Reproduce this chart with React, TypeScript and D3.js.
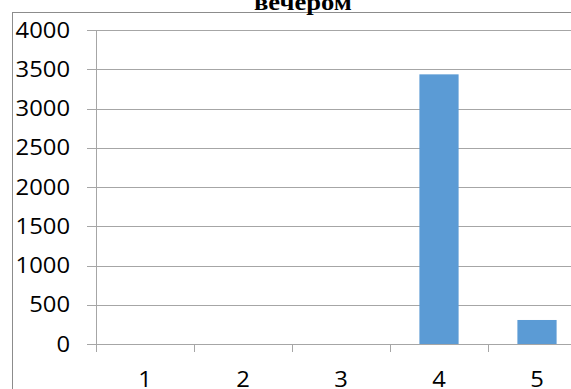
import React from "react";
import * as d3 from "d3";

const categories = ["1", "2", "3", "4", "5"];
const values = [0, 0, 0, 3435, 306];
const yTicks = [0, 500, 1000, 1500, 2000, 2500, 3000, 3500, 4000];
const title = "вечером";

export default function App() {
  const W = 571, H = 389;
  const x = d3.scaleBand<string>().domain(categories).range([96, 586]).paddingInner(0.6).paddingOuter(0.3);
  const y = d3.scaleLinear().domain([0, 4000]).range([344, 30]);
  const step = x.step();
  const font = "'Open Sans', sans-serif";
  const gridColor = "#a6a6a6";
  return (
    <svg width={W} height={H} style={{ position: "absolute", left: 0, top: 0, background: "#fff" }}>
      <rect x={12.5} y={12.5} width={W + 20} height={H + 20} fill="none" stroke="#8c8c8c" strokeWidth={1} />
      <text x={303} y={10} textAnchor="middle" fontFamily="'Liberation Serif', serif" fontWeight="bold" fontSize={24} textLength={98} lengthAdjust="spacingAndGlyphs" fill="#000">{title}</text>
      {yTicks.map((t) => (
        <g key={t}>
          <line x1={87} x2={W} y1={Math.round(y(t)) + 0.5} y2={Math.round(y(t)) + 0.5} stroke={gridColor} strokeWidth={1} />
          <text x={70} y={y(t)} dy="0.36em" textAnchor="end" fontFamily={font} fontSize={21} fill="#000"
            textLength={String(t).length * 13.6} lengthAdjust="spacingAndGlyphs">{t}</text>
        </g>
      ))}
      <line x1={96.5} x2={96.5} y1={y(4000)} y2={352} stroke={gridColor} strokeWidth={1} />
      {categories.map((c, i) => (
        <line key={"t" + c} x1={Math.round(96 + step * (i + 1)) + 0.5} x2={Math.round(96 + step * (i + 1)) + 0.5} y1={344} y2={352} stroke={gridColor} strokeWidth={1} />
      ))}
      {categories.map((c, i) => (
        <rect key={"b" + c} x={x(c)} y={y(values[i])} width={x.bandwidth()} height={y(0) - y(values[i])} fill="#5b9bd5" />
      ))}
      {categories.map((c) => (
        <text key={"l" + c} x={(x(c) as number) + x.bandwidth() / 2} y={379} dy="0.36em" textAnchor="middle" fontFamily={font} fontSize={21} fill="#000"
          textLength={13.6} lengthAdjust="spacingAndGlyphs">{c}</text>
      ))}
    </svg>
  );
}
